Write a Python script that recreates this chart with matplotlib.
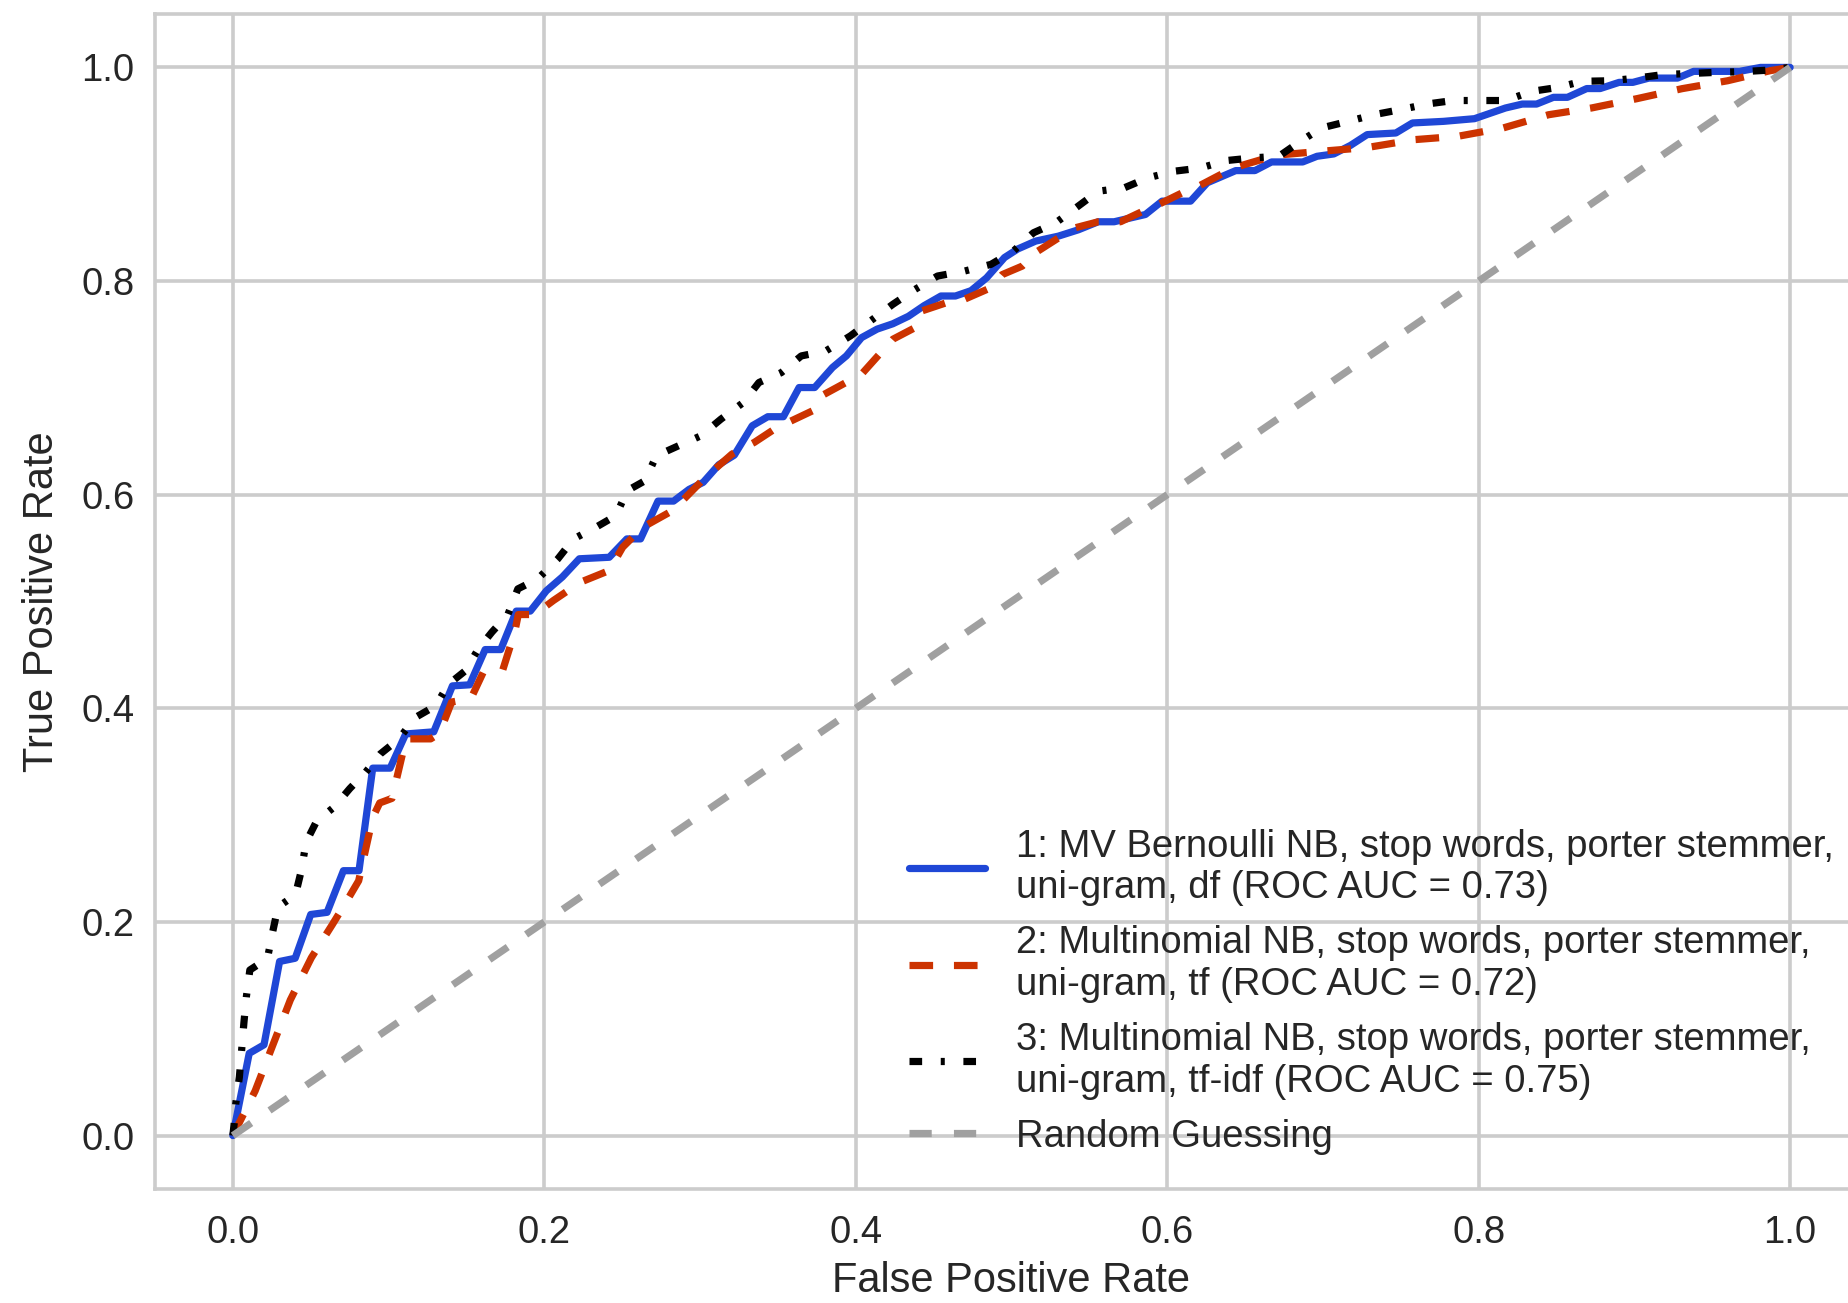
import numpy as np
import matplotlib
matplotlib.use("Agg")
import matplotlib.pyplot as plt

# ROC curve points (FPR, TPR)
fpr_bern = [0.0, 0.0105, 0.020, 0.030, 0.040, 0.050, 0.0605, 0.071, 0.081, 0.0898, 0.101,
            0.111, 0.129, 0.141, 0.152, 0.162, 0.172, 0.182, 0.191, 0.2013, 0.2116, 0.2225,
            0.2417, 0.253, 0.2618, 0.273, 0.283, 0.293, 0.302, 0.312, 0.322, 0.3335, 0.3435,
            0.3535, 0.3636, 0.3736, 0.385, 0.394, 0.4037, 0.4137, 0.4238, 0.4338, 0.4439,
            0.4547, 0.464, 0.474, 0.484, 0.4955, 0.504, 0.5155, 0.530, 0.543, 0.5557, 0.5659,
            0.5860, 0.5967, 0.615, 0.6257, 0.644, 0.6563, 0.667, 0.687, 0.6962, 0.707, 0.7177,
            0.7284, 0.7468, 0.7575, 0.7774, 0.7973, 0.8172, 0.828, 0.8372, 0.848, 0.857,
            0.8694, 0.878, 0.8902, 0.899, 0.9093, 0.9277, 0.938, 0.9675, 0.981, 1.0]
tpr_bern = [0.0, 0.077, 0.085, 0.163, 0.166, 0.207, 0.209, 0.248, 0.248, 0.344, 0.344,
            0.376, 0.378, 0.421, 0.422, 0.455, 0.455, 0.491, 0.491, 0.510, 0.523, 0.540,
            0.5414, 0.5586, 0.5586, 0.594, 0.594, 0.605, 0.6115, 0.628, 0.637, 0.6645, 0.673,
            0.673, 0.7003, 0.7003, 0.719, 0.730, 0.747, 0.755, 0.760, 0.767, 0.777,
            0.786, 0.786, 0.791, 0.803, 0.822, 0.830, 0.8374, 0.842, 0.848, 0.8555, 0.8555,
            0.8623, 0.8748, 0.8748, 0.892, 0.9034, 0.9034, 0.9115, 0.9115, 0.9168, 0.919, 0.927,
            0.9371, 0.9386, 0.948, 0.9495, 0.952, 0.962, 0.9657, 0.9657, 0.972, 0.972,
            0.9802, 0.9802, 0.986, 0.986, 0.990, 0.990, 0.9963, 0.9963, 1.0, 1.0]

fpr_tf = [0.0, 0.0143, 0.0256, 0.0369, 0.0504, 0.0639, 0.0729, 0.0808, 0.0898, 0.0943,
          0.1022, 0.1112, 0.127, 0.1326, 0.1405, 0.1529, 0.1608, 0.1732, 0.181, 0.1833,
          0.1946, 0.2001, 0.2059, 0.2231, 0.2417, 0.2503, 0.2632, 0.2804, 0.2876, 0.3034,
          0.3205, 0.3349, 0.3478, 0.3564, 0.3722, 0.3779, 0.3937, 0.4037, 0.4152, 0.4238,
          0.4381, 0.4424, 0.4582, 0.4697, 0.4867, 0.494, 0.5069, 0.5169, 0.5298, 0.5413,
          0.5557, 0.570, 0.5844, 0.5944, 0.6116, 0.618, 0.6426, 0.67, 0.699, 0.7284, 0.759,
          0.7866, 0.8157, 0.8449, 0.8724, 0.9015, 0.9306, 0.9598, 0.9874, 1.0]
tpr_tf = [0.0, 0.0418, 0.0845, 0.127, 0.1665, 0.1976, 0.219, 0.2386, 0.2977, 0.3114,
          0.3157, 0.3714, 0.3714, 0.3764, 0.4059, 0.4092, 0.4338, 0.4354, 0.4714, 0.4878,
          0.4878, 0.4947, 0.501, 0.518, 0.529, 0.5508, 0.5695, 0.5835, 0.5928, 0.6162,
          0.638, 0.649, 0.6614, 0.6676, 0.6785, 0.6925, 0.705, 0.7128, 0.7315, 0.7455,
          0.7564, 0.772, 0.7797, 0.7829, 0.7937, 0.806, 0.814, 0.828, 0.840, 0.850,
          0.8555, 0.8555, 0.8654, 0.8717, 0.884, 0.8872, 0.906, 0.9178, 0.9215, 0.925, 0.9324,
          0.9355, 0.9433, 0.9557, 0.962, 0.9707, 0.9801, 0.9875, 0.997, 1.0]

fpr_tfidf = [0.0, 0.0008, 0.0019, 0.0042, 0.0057, 0.0071, 0.0087, 0.0109, 0.0222, 0.0256,
             0.029, 0.0402, 0.0441, 0.047, 0.0538, 0.065, 0.0751, 0.0853, 0.0947, 0.1067,
             0.1168, 0.1304, 0.1382, 0.1495, 0.1574, 0.1664, 0.1766, 0.183, 0.1958, 0.2087,
             0.2188, 0.2331, 0.246, 0.2532, 0.2647, 0.2719, 0.2862, 0.3005, 0.3134, 0.3278,
             0.3378, 0.3522, 0.365, 0.3808, 0.3965, 0.4094, 0.4238, 0.4381, 0.4525, 0.4697,
             0.4868, 0.5012, 0.5141, 0.5284, 0.5428, 0.5557, 0.5723, 0.5875, 0.6044, 0.6212,
             0.6380, 0.6549, 0.6717, 0.6855, 0.699, 0.7162, 0.733, 0.7499, 0.7667, 0.7836,
             0.8005, 0.8172, 0.8342, 0.851, 0.8664, 0.8847, 0.9015, 0.9184, 0.9353, 0.952,
             0.9688, 0.987, 1.0]
tpr_tfidf = [0.0, 0.0107, 0.0304, 0.055, 0.0812, 0.1058, 0.1303, 0.155, 0.1658, 0.191,
             0.214, 0.2255, 0.249, 0.2747, 0.2944, 0.3075, 0.3249, 0.3403, 0.3573, 0.3714,
             0.3911, 0.4025, 0.4222, 0.4354, 0.4551, 0.4714, 0.4878, 0.5118, 0.5212, 0.5399,
             0.5586, 0.5695, 0.5804, 0.6037, 0.6131, 0.6364, 0.6458, 0.6551, 0.6707, 0.6863,
             0.7050, 0.7143, 0.7299, 0.7346, 0.7486, 0.7626, 0.7782, 0.7922, 0.8047, 0.8093,
             0.8156, 0.828, 0.8452, 0.8545, 0.8701, 0.8841, 0.8872, 0.8966, 0.9028, 0.9058,
             0.9128, 0.9153, 0.9168, 0.9308, 0.9433, 0.9495, 0.9558, 0.9605, 0.9657, 0.969,
             0.969, 0.969, 0.9776, 0.9813, 0.987, 0.9875, 0.990, 0.9933, 0.9943, 0.9953,
             0.996, 0.9975, 1.0]

labels = ['1: MV Bernoulli NB, stop words, porter stemmer,\nuni-gram, df (ROC AUC = 0.73)',
          '2: Multinomial NB, stop words, porter stemmer,\nuni-gram, tf (ROC AUC = 0.72)',
          '3: Multinomial NB, stop words, porter stemmer,\nuni-gram, tf-idf (ROC AUC = 0.75)',
          'Random Guessing']

# seaborn whitegrid look, done by hand
plt.rcParams['font.family'] = ['Liberation Sans', 'DejaVu Sans']
plt.rcParams['lines.scale_dashes'] = False
plt.rcParams['text.color'] = '.15'
plt.rcParams['axes.labelcolor'] = '.15'
plt.rcParams['xtick.color'] = '.15'
plt.rcParams['ytick.color'] = '.15'

fig = plt.figure(figsize=(18.48, 13.03), dpi=100)
ax = fig.add_axes([155 / 1848, 114 / 1303, 1713 / 1848, 1175 / 1303])

lw = 5.2
ax.plot(fpr_bern, tpr_bern, color='#1f47d6', lw=lw, label=labels[0],
        solid_capstyle='round')
ax.plot(fpr_tf, tpr_tf, color='#cc3300', lw=lw, dashes=(17, 15), label=labels[1])
ax.plot(fpr_tfidf, tpr_tfidf, color='black', lw=lw, dashes=(9.1, 13.4, 2.9, 13.4),
        label=labels[2])
ax.plot([0, 1], [0, 1], color='#a0a0a0', lw=lw, dashes=(16, 16), label=labels[3])

ax.set_xlim(-0.05, 1.05)
ax.set_ylim(-0.05, 1.05)
ax.set_xticks(np.arange(0, 1.01, 0.2))
ax.set_yticks(np.arange(0, 1.01, 0.2))
ax.set_xlabel('False Positive Rate', fontsize=30, labelpad=7)
ax.set_ylabel('True Positive Rate', fontsize=30, labelpad=14)
ax.tick_params(axis='x', length=0, pad=19, labelsize=27.5)
ax.tick_params(axis='y', length=0, pad=15, labelsize=27.5)

ax.grid(True, color='#cccccc', lw=2.6)
ax.set_axisbelow(True)
for s in ax.spines.values():
    s.set_color('#cccccc')
    s.set_linewidth(2.6)

ax.legend(loc='lower right', fontsize=27.5, frameon=False)

fig.savefig('out.png', dpi=100)
